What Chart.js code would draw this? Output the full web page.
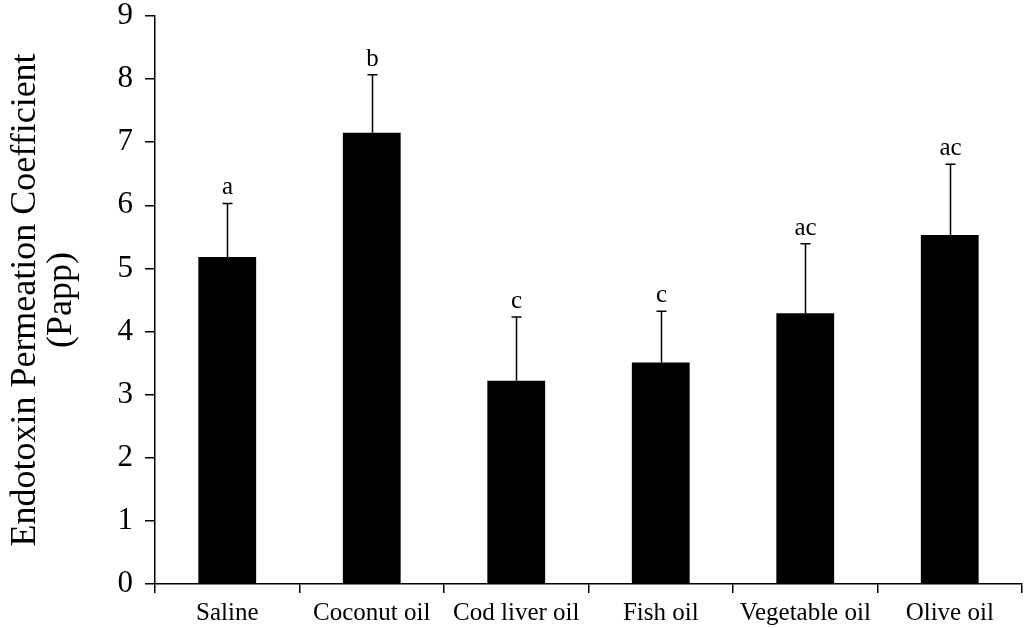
<!DOCTYPE html>
<html>
<head>
<meta charset="utf-8">
<script src="https://cdn.jsdelivr.net/npm/chart.js@4.4.1/dist/chart.umd.min.js"></script>
<style>
  html, body { margin: 0; padding: 0; background: #fff; }
  #wrap { width: 1024px; height: 628px; }
</style>
</head>
<body>
<div id="wrap"><canvas id="papp"></canvas></div>
<script>
const groups = ["Saline", "Coconut oil", "Cod liver oil", "Fish oil", "Vegetable oil", "Olive oil"];
const meanPapp = [5.18, 7.15, 3.22, 3.51, 4.29, 5.53];
const errorUp = [0.85, 0.92, 1.01, 0.81, 1.10, 1.12];
const sigLetters = ["a", "b", "c", "c", "ac", "ac"];
const yTicks = [0, 1, 2, 3, 4, 5, 6, 7, 8, 9];

const serif = "'Liberation Serif', 'Times New Roman', serif";

// error bars (upper only) + significance letters
const errorBars = {
  id: "errorBars",
  afterDatasetsDraw(chart) {
    const { ctx, scales } = chart;
    const x = scales.x, y = scales.y;
    ctx.save();
    ctx.strokeStyle = "#000";
    ctx.lineWidth = 1.5;
    ctx.fillStyle = "#000";
    ctx.font = "25px " + serif;
    ctx.textAlign = "center";
    ctx.textBaseline = "alphabetic";
    meanPapp.forEach((v, i) => {
      const cx = Math.round(x.getPixelForValue(i)) + 0.5;
      const top = y.getPixelForValue(v + errorUp[i]);
      const base = y.getPixelForValue(v);
      ctx.beginPath();
      ctx.moveTo(cx, base);
      ctx.lineTo(cx, top);
      ctx.moveTo(cx - 5, top);
      ctx.lineTo(cx + 5, top);
      ctx.stroke();
      ctx.fillText(sigLetters[i], cx, top - 9);
    });
    ctx.restore();
  }
};

new Chart(document.getElementById("papp").getContext("2d"), {
  type: "bar",
  data: {
    labels: groups,
    datasets: [{
      data: meanPapp,
      backgroundColor: "#000",
      borderWidth: 0,
      barPercentage: 0.4,
      categoryPercentage: 1.0
    }]
  },
  options: {
    responsive: true,
    maintainAspectRatio: false,
    animation: false,
    layout: { padding: { top: 16, right: 2, left: 0, bottom: 0 } },
    plugins: {
      legend: { display: false },
      tooltip: { enabled: false }
    },
    scales: {
      x: {
        offset: true,
        border: { display: true, color: "#000", width: 1.5 },
        grid: {
          display: true,
          offset: true,
          drawOnChartArea: false,
          drawTicks: true,
          tickLength: 9,
          color: "#000",
          lineWidth: 1.5
        },
        ticks: {
          color: "#000",
          font: { family: serif, size: 25 },
          padding: 5,
          maxRotation: 0,
          autoSkip: false
        },
        afterFit(scale) {
          scale.height = 44;
          scale.paddingLeft = 0;
          scale.paddingRight = 0;
        }
      },
      y: {
        min: 0,
        max: 9,
        border: { display: true, color: "#000", width: 1.5 },
        grid: {
          display: true,
          drawOnChartArea: false,
          drawTicks: true,
          tickLength: 10,
          color: "#000",
          lineWidth: 1.5
        },
        afterBuildTicks(scale) {
          scale.ticks = yTicks.map(v => ({ value: v }));
        },
        ticks: {
          color: "#000",
          font: { family: serif, size: 31 },
          padding: 12
        },
        title: {
          display: true,
          text: ["Endotoxin Permeation Coefficient", "(Papp)"],
          color: "#000",
          font: { family: serif, size: 36, lineHeight: 1.0 },
          padding: { top: 8, bottom: 0 }
        },
        afterFit(scale) {
          scale.width = 155;
          scale.paddingTop = 0;
          scale.paddingBottom = 0;
        }
      }
    }
  },
  plugins: [errorBars]
});
</script>
</body>
</html>
